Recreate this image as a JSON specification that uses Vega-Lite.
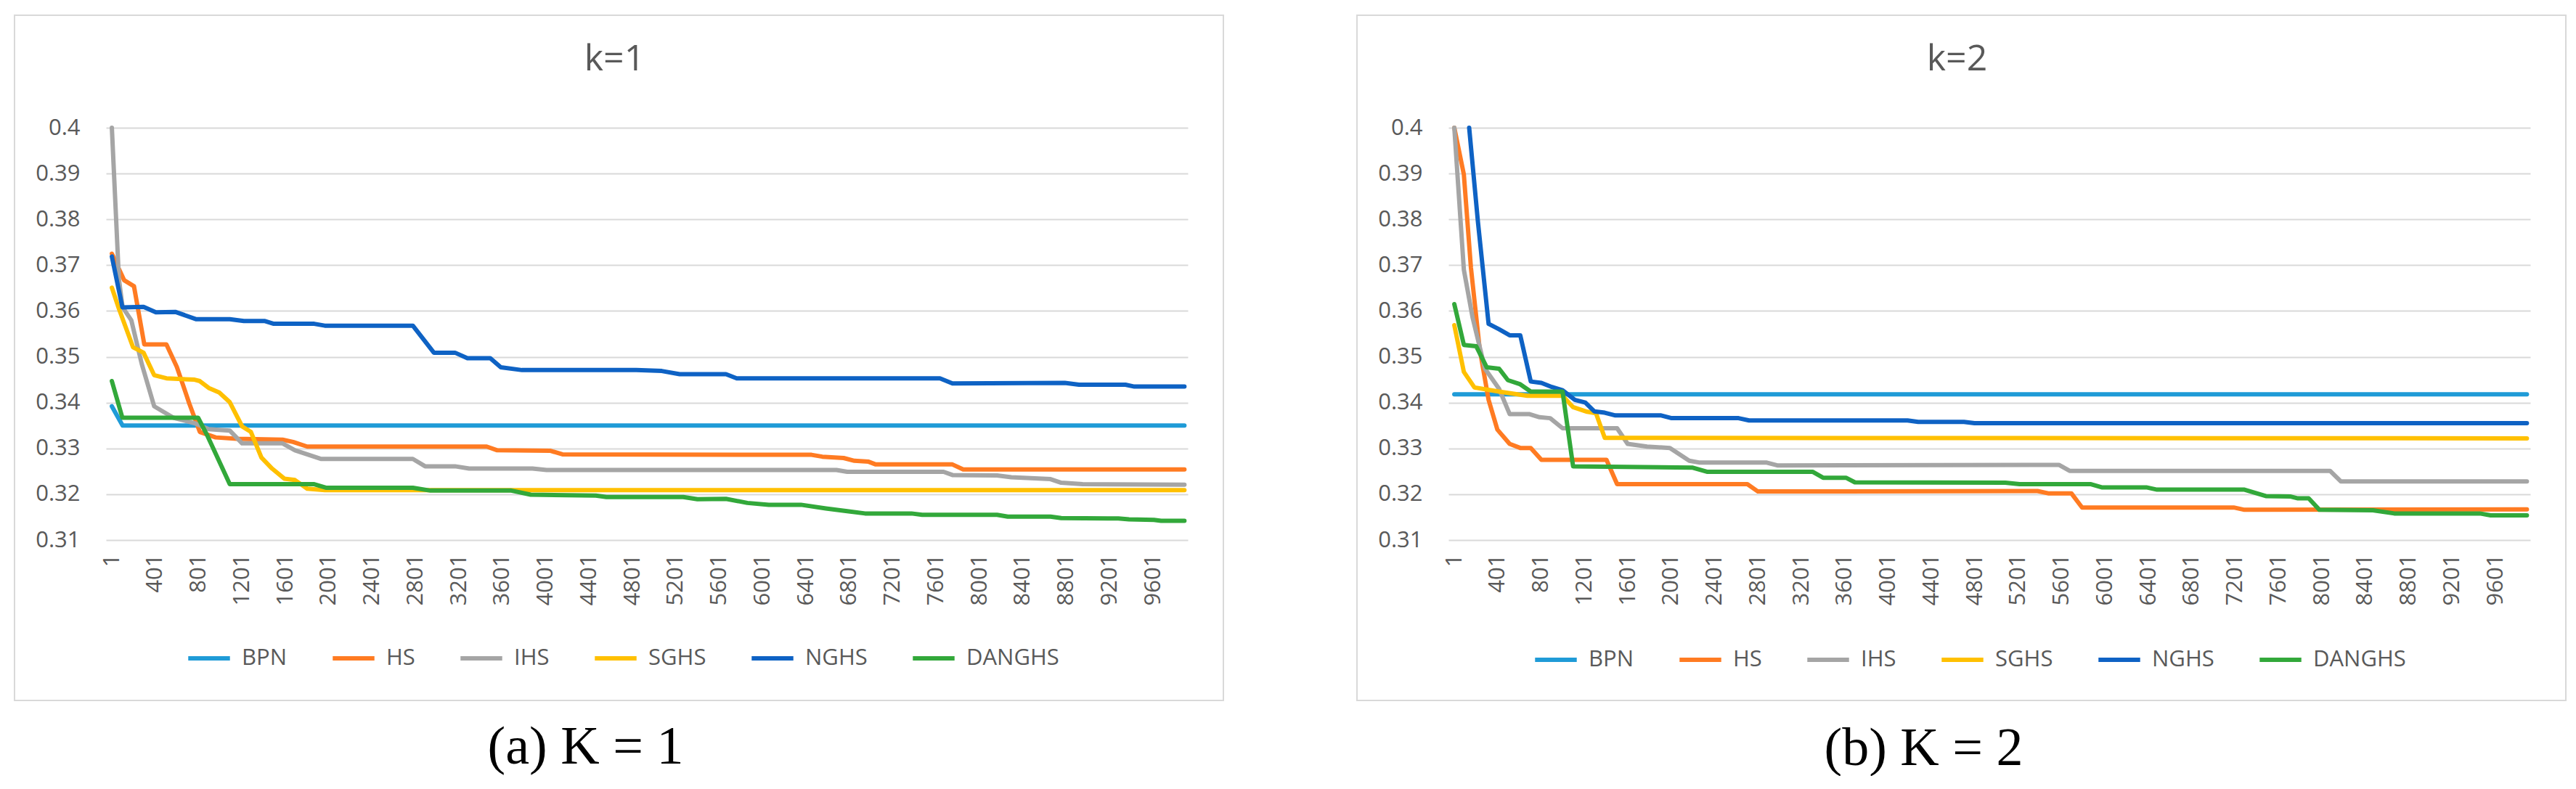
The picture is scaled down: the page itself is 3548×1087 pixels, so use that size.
{
  "$schema": "https://vega.github.io/schema/vega-lite/v6.json",
  "background": "white",
  "padding": {"left": 19, "top": 20, "right": 0, "bottom": 0},
  "autosize": {"type": "pad"},
  "spacing": 182,
  "resolve": {"scale": {"color": "independent"}, "legend": {"color": "independent"}},
  "config": {
    "view": {"stroke": "#d9d9d9", "strokeWidth": 2},
    "font": "Open Sans",
    "axis": {"labelColor": "#595959", "labelFontSize": 31, "labelFont": "Open Sans", "domain": false, "ticks": false, "tickSize": 0, "labelPadding": 0, "title": null},
    "legend": {"labelColor": "#595959", "labelFontSize": 31, "labelFont": "Open Sans"}
  },
  "datasets": {
    "k1": [
      {"s":"BPN","i":1,"v":0.3392},{"s":"BPN","i":100,"v":0.3350},{"s":"BPN","i":9890,"v":0.3350},
      {"s":"HS","i":1,"v":0.3725},{"s":"HS","i":115,"v":0.3667},{"s":"HS","i":205,"v":0.3654},{"s":"HS","i":300,"v":0.3527},{"s":"HS","i":504,"v":0.3527},{"s":"HS","i":600,"v":0.3478},{"s":"HS","i":715,"v":0.3398},{"s":"HS","i":812,"v":0.3336},{"s":"HS","i":958,"v":0.3324},{"s":"HS","i":1153,"v":0.3321},{"s":"HS","i":1575,"v":0.3319},{"s":"HS","i":1672,"v":0.3314},{"s":"HS","i":1802,"v":0.3304},{"s":"HS","i":3457,"v":0.3304},{"s":"HS","i":3554,"v":0.3296},{"s":"HS","i":4041,"v":0.3295},{"s":"HS","i":4155,"v":0.3287},{"s":"HS","i":6452,"v":0.3286},{"s":"HS","i":6551,"v":0.3282},{"s":"HS","i":6748,"v":0.3279},{"s":"HS","i":6847,"v":0.3273},{"s":"HS","i":6978,"v":0.3271},{"s":"HS","i":7044,"v":0.3265},{"s":"HS","i":7751,"v":0.3265},{"s":"HS","i":7850,"v":0.3254},{"s":"HS","i":9890,"v":0.3254},
      {"s":"IHS","i":1,"v":0.4},{"s":"IHS","i":66,"v":0.367},{"s":"IHS","i":100,"v":0.3608},{"s":"IHS","i":180,"v":0.358},{"s":"IHS","i":277,"v":0.3484},{"s":"IHS","i":391,"v":0.3392},{"s":"IHS","i":569,"v":0.3367},{"s":"IHS","i":764,"v":0.3355},{"s":"IHS","i":894,"v":0.3342},{"s":"IHS","i":1088,"v":0.3339},{"s":"IHS","i":1202,"v":0.3311},{"s":"IHS","i":1575,"v":0.3311},{"s":"IHS","i":1689,"v":0.3296},{"s":"IHS","i":1932,"v":0.3277},{"s":"IHS","i":2776,"v":0.3277},{"s":"IHS","i":2889,"v":0.3261},{"s":"IHS","i":3165,"v":0.3261},{"s":"IHS","i":3295,"v":0.3256},{"s":"IHS","i":3879,"v":0.3256},{"s":"IHS","i":4009,"v":0.3253},{"s":"IHS","i":6682,"v":0.3253},{"s":"IHS","i":6781,"v":0.3249},{"s":"IHS","i":7669,"v":0.3249},{"s":"IHS","i":7751,"v":0.3242},{"s":"IHS","i":8162,"v":0.3241},{"s":"IHS","i":8294,"v":0.3237},{"s":"IHS","i":8655,"v":0.3233},{"s":"IHS","i":8754,"v":0.3225},{"s":"IHS","i":8951,"v":0.3222},{"s":"IHS","i":9890,"v":0.3221},
      {"s":"SGHS","i":1,"v":0.3651},{"s":"SGHS","i":66,"v":0.3605},{"s":"SGHS","i":196,"v":0.3521},{"s":"SGHS","i":293,"v":0.3509},{"s":"SGHS","i":391,"v":0.346},{"s":"SGHS","i":504,"v":0.3453},{"s":"SGHS","i":764,"v":0.345},{"s":"SGHS","i":812,"v":0.3447},{"s":"SGHS","i":894,"v":0.3432},{"s":"SGHS","i":991,"v":0.3422},{"s":"SGHS","i":1088,"v":0.3401},{"s":"SGHS","i":1202,"v":0.3348},{"s":"SGHS","i":1283,"v":0.3336},{"s":"SGHS","i":1380,"v":0.328},{"s":"SGHS","i":1478,"v":0.3256},{"s":"SGHS","i":1591,"v":0.3234},{"s":"SGHS","i":1689,"v":0.3231},{"s":"SGHS","i":1802,"v":0.3212},{"s":"SGHS","i":1964,"v":0.3209},{"s":"SGHS","i":9890,"v":0.3209},
      {"s":"NGHS","i":1,"v":0.3719},{"s":"NGHS","i":98,"v":0.3608},{"s":"NGHS","i":293,"v":0.3609},{"s":"NGHS","i":407,"v":0.3597},{"s":"NGHS","i":585,"v":0.3598},{"s":"NGHS","i":780,"v":0.3582},{"s":"NGHS","i":1088,"v":0.3582},{"s":"NGHS","i":1218,"v":0.3578},{"s":"NGHS","i":1413,"v":0.3578},{"s":"NGHS","i":1494,"v":0.3572},{"s":"NGHS","i":1867,"v":0.3572},{"s":"NGHS","i":1964,"v":0.3568},{"s":"NGHS","i":2776,"v":0.3568},{"s":"NGHS","i":2970,"v":0.3509},{"s":"NGHS","i":3165,"v":0.3509},{"s":"NGHS","i":3279,"v":0.3497},{"s":"NGHS","i":3490,"v":0.3497},{"s":"NGHS","i":3587,"v":0.3477},{"s":"NGHS","i":3782,"v":0.3471},{"s":"NGHS","i":4836,"v":0.3471},{"s":"NGHS","i":5071,"v":0.3469},{"s":"NGHS","i":5236,"v":0.3462},{"s":"NGHS","i":5663,"v":0.3462},{"s":"NGHS","i":5762,"v":0.3453},{"s":"NGHS","i":7636,"v":0.3453},{"s":"NGHS","i":7751,"v":0.3442},{"s":"NGHS","i":8787,"v":0.3443},{"s":"NGHS","i":8918,"v":0.3439},{"s":"NGHS","i":9346,"v":0.3439},{"s":"NGHS","i":9428,"v":0.3435},{"s":"NGHS","i":9890,"v":0.3435},
      {"s":"DANGHS","i":1,"v":0.3447},{"s":"DANGHS","i":98,"v":0.3367},{"s":"DANGHS","i":796,"v":0.3367},{"s":"DANGHS","i":877,"v":0.333},{"s":"DANGHS","i":1088,"v":0.3222},{"s":"DANGHS","i":1867,"v":0.3222},{"s":"DANGHS","i":1980,"v":0.3214},{"s":"DANGHS","i":2776,"v":0.3214},{"s":"DANGHS","i":2938,"v":0.3208},{"s":"DANGHS","i":3684,"v":0.3208},{"s":"DANGHS","i":3863,"v":0.3199},{"s":"DANGHS","i":4463,"v":0.3197},{"s":"DANGHS","i":4561,"v":0.3194},{"s":"DANGHS","i":5269,"v":0.3194},{"s":"DANGHS","i":5400,"v":0.3189},{"s":"DANGHS","i":5663,"v":0.319},{"s":"DANGHS","i":5860,"v":0.3181},{"s":"DANGHS","i":6058,"v":0.3177},{"s":"DANGHS","i":6354,"v":0.3177},{"s":"DANGHS","i":6584,"v":0.3169},{"s":"DANGHS","i":6781,"v":0.3163},{"s":"DANGHS","i":6945,"v":0.3158},{"s":"DANGHS","i":7373,"v":0.3158},{"s":"DANGHS","i":7472,"v":0.3155},{"s":"DANGHS","i":8162,"v":0.3155},{"s":"DANGHS","i":8261,"v":0.3151},{"s":"DANGHS","i":8655,"v":0.3151},{"s":"DANGHS","i":8754,"v":0.3148},{"s":"DANGHS","i":9280,"v":0.3147},{"s":"DANGHS","i":9379,"v":0.3145},{"s":"DANGHS","i":9609,"v":0.3144},{"s":"DANGHS","i":9675,"v":0.3142},{"s":"DANGHS","i":9890,"v":0.3142}
    ],
    "k2": [
      {"s":"BPN","i":1,"v":0.3418},{"s":"BPN","i":9890,"v":0.3418},
      {"s":"HS","i":1,"v":0.4},{"s":"HS","i":89,"v":0.3898},{"s":"HS","i":154,"v":0.3695},{"s":"HS","i":235,"v":0.3517},{"s":"HS","i":317,"v":0.3406},{"s":"HS","i":398,"v":0.3341},{"s":"HS","i":511,"v":0.331},{"s":"HS","i":609,"v":0.3301},{"s":"HS","i":706,"v":0.3301},{"s":"HS","i":804,"v":0.3275},{"s":"HS","i":1404,"v":0.3275},{"s":"HS","i":1502,"v":0.3222},{"s":"HS","i":2703,"v":0.3222},{"s":"HS","i":2800,"v":0.3206},{"s":"HS","i":5378,"v":0.3207},{"s":"HS","i":5476,"v":0.3202},{"s":"HS","i":5690,"v":0.3202},{"s":"HS","i":5789,"v":0.3171},{"s":"HS","i":7187,"v":0.3171},{"s":"HS","i":7286,"v":0.3166},{"s":"HS","i":9890,"v":0.3167},
      {"s":"IHS","i":1,"v":0.4},{"s":"IHS","i":89,"v":0.369},{"s":"IHS","i":170,"v":0.3585},{"s":"IHS","i":284,"v":0.3474},{"s":"IHS","i":414,"v":0.343},{"s":"IHS","i":511,"v":0.3375},{"s":"IHS","i":690,"v":0.3375},{"s":"IHS","i":787,"v":0.3368},{"s":"IHS","i":885,"v":0.3366},{"s":"IHS","i":999,"v":0.3344},{"s":"IHS","i":1502,"v":0.3344},{"s":"IHS","i":1599,"v":0.331},{"s":"IHS","i":1778,"v":0.3304},{"s":"IHS","i":1989,"v":0.3301},{"s":"IHS","i":2167,"v":0.3273},{"s":"IHS","i":2265,"v":0.3269},{"s":"IHS","i":2882,"v":0.3269},{"s":"IHS","i":2979,"v":0.3263},{"s":"IHS","i":5575,"v":0.3264},{"s":"IHS","i":5674,"v":0.3251},{"s":"IHS","i":8075,"v":0.3251},{"s":"IHS","i":8174,"v":0.3228},{"s":"IHS","i":9890,"v":0.3228},
      {"s":"SGHS","i":1,"v":0.3569},{"s":"SGHS","i":89,"v":0.3467},{"s":"SGHS","i":187,"v":0.3433},{"s":"SGHS","i":414,"v":0.3424},{"s":"SGHS","i":674,"v":0.3415},{"s":"SGHS","i":999,"v":0.3415},{"s":"SGHS","i":1096,"v":0.339},{"s":"SGHS","i":1226,"v":0.338},{"s":"SGHS","i":1307,"v":0.3377},{"s":"SGHS","i":1388,"v":0.3323},{"s":"SGHS","i":9890,"v":0.3322},
      {"s":"NGHS","i":138,"v":0.4},{"s":"NGHS","i":219,"v":0.3794},{"s":"NGHS","i":317,"v":0.3572},{"s":"NGHS","i":414,"v":0.356},{"s":"NGHS","i":511,"v":0.3547},{"s":"NGHS","i":609,"v":0.3547},{"s":"NGHS","i":706,"v":0.3446},{"s":"NGHS","i":804,"v":0.3443},{"s":"NGHS","i":901,"v":0.3434},{"s":"NGHS","i":999,"v":0.3427},{"s":"NGHS","i":1112,"v":0.3406},{"s":"NGHS","i":1209,"v":0.34},{"s":"NGHS","i":1291,"v":0.3381},{"s":"NGHS","i":1388,"v":0.3378},{"s":"NGHS","i":1486,"v":0.3372},{"s":"NGHS","i":1908,"v":0.3372},{"s":"NGHS","i":2005,"v":0.3366},{"s":"NGHS","i":2622,"v":0.3366},{"s":"NGHS","i":2719,"v":0.3361},{"s":"NGHS","i":4180,"v":0.3361},{"s":"NGHS","i":4278,"v":0.3358},{"s":"NGHS","i":4700,"v":0.3358},{"s":"NGHS","i":4797,"v":0.3355},{"s":"NGHS","i":9890,"v":0.3355},
      {"s":"DANGHS","i":1,"v":0.3615},{"s":"DANGHS","i":89,"v":0.3526},{"s":"DANGHS","i":203,"v":0.3523},{"s":"DANGHS","i":300,"v":0.3477},{"s":"DANGHS","i":414,"v":0.3474},{"s":"DANGHS","i":495,"v":0.3449},{"s":"DANGHS","i":609,"v":0.344},{"s":"DANGHS","i":706,"v":0.3424},{"s":"DANGHS","i":999,"v":0.3424},{"s":"DANGHS","i":1096,"v":0.3261},{"s":"DANGHS","i":2200,"v":0.3258},{"s":"DANGHS","i":2330,"v":0.3249},{"s":"DANGHS","i":3304,"v":0.3249},{"s":"DANGHS","i":3401,"v":0.3236},{"s":"DANGHS","i":3612,"v":0.3236},{"s":"DANGHS","i":3694,"v":0.3226},{"s":"DANGHS","i":5081,"v":0.3225},{"s":"DANGHS","i":5213,"v":0.3222},{"s":"DANGHS","i":5871,"v":0.3222},{"s":"DANGHS","i":5970,"v":0.3215},{"s":"DANGHS","i":6381,"v":0.3215},{"s":"DANGHS","i":6480,"v":0.321},{"s":"DANGHS","i":7286,"v":0.321},{"s":"DANGHS","i":7483,"v":0.3196},{"s":"DANGHS","i":7713,"v":0.3195},{"s":"DANGHS","i":7779,"v":0.3191},{"s":"DANGHS","i":7878,"v":0.3191},{"s":"DANGHS","i":7977,"v":0.3166},{"s":"DANGHS","i":8470,"v":0.3165},{"s":"DANGHS","i":8667,"v":0.3158},{"s":"DANGHS","i":9457,"v":0.3158},{"s":"DANGHS","i":9556,"v":0.3154},{"s":"DANGHS","i":9890,"v":0.3154}
    ]
  },
  "hconcat": [
    {
      "title": {"text": "(a) K = 1", "orient": "bottom", "anchor": "middle", "font": "Liberation Serif", "fontSize": 74, "fontWeight": "normal", "color": "#000000", "baseline": "alphabetic", "offset": 86, "dx": -46},
      "vconcat": [
        {
          "width": 1665,
          "height": 944,
          "title": {"text": "k=1", "fontSize": 50, "fontWeight": "normal", "color": "#595959", "font": "Open Sans", "anchor": "middle", "frame": "group", "baseline": "middle", "offset": -111, "dx": -6},
          "data": {"name": "k1"},
          "mark": {"type": "line", "strokeWidth": 6, "strokeJoin": "round", "strokeCap": "round"},
          "encoding": {
            "x": {"field": "i", "type": "quantitative",
              "scale": {"domain": [-53, 9921], "range": [126, 1616], "nice": false, "zero": false},
              "axis": {"values": [1,401,801,1201,1601,2001,2401,2801,3201,3601,4001,4401,4801,5201,5601,6001,6401,6801,7201,7601,8001,8401,8801,9201,9601], "labelAngle": -90, "labelAlign": "right", "labelBaseline": "middle", "grid": false, "offset": -202, "labelOverlap": false, "labelFlush": false, "format": "d"}},
            "y": {"field": "v", "type": "quantitative",
              "scale": {"domain": [0.31, 0.4], "range": [723, 155], "nice": false, "zero": false},
              "axis": {"values": [0.31,0.32,0.33,0.34,0.35,0.36,0.37,0.38,0.39,0.4], "grid": true, "gridColor": "#d9d9d9", "gridWidth": 2, "offset": -90, "labelPadding": 0, "format": ".2~f", "labelOverlap": false, "labelFlush": false}},
            "color": {"field": "s", "type": "nominal",
              "scale": {"domain": ["BPN","HS","IHS","SGHS","NGHS","DANGHS"], "range": ["#1F9BD7","#FF7B22","#A5A5A5","#FFC000","#0E62C4","#32A83A"]},
              "legend": {"orient": "none", "legendX": 236, "legendY": 854, "direction": "horizontal", "title": null, "symbolType": "stroke", "symbolSize": 3300, "symbolStrokeWidth": 6, "columnPadding": 50, "labelOffset": 13}}
          }
        }
      ]
    },
    {
      "title": {"text": "(b) K = 2", "orient": "bottom", "anchor": "middle", "font": "Liberation Serif", "fontSize": 74, "fontWeight": "normal", "color": "#000000", "baseline": "alphabetic", "offset": 88, "dx": -52},
      "vconcat": [
        {
          "width": 1665,
          "height": 944,
          "title": {"text": "k=2", "fontSize": 50, "fontWeight": "normal", "color": "#595959", "font": "Open Sans", "anchor": "middle", "frame": "group", "baseline": "middle", "offset": -111, "dx": -6},
          "data": {"name": "k2"},
          "mark": {"type": "line", "strokeWidth": 6, "strokeJoin": "round", "strokeCap": "round"},
          "encoding": {
            "x": {"field": "i", "type": "quantitative",
              "scale": {"domain": [-53, 9921], "range": [126, 1616], "nice": false, "zero": false},
              "axis": {"values": [1,401,801,1201,1601,2001,2401,2801,3201,3601,4001,4401,4801,5201,5601,6001,6401,6801,7201,7601,8001,8401,8801,9201,9601], "labelAngle": -90, "labelAlign": "right", "labelBaseline": "middle", "grid": false, "offset": -202, "labelOverlap": false, "labelFlush": false, "format": "d"}},
            "y": {"field": "v", "type": "quantitative",
              "scale": {"domain": [0.31, 0.4], "range": [723, 155], "nice": false, "zero": false},
              "axis": {"values": [0.31,0.32,0.33,0.34,0.35,0.36,0.37,0.38,0.39,0.4], "grid": true, "gridColor": "#d9d9d9", "gridWidth": 2, "offset": -90, "labelPadding": 0, "format": ".2~f", "labelOverlap": false, "labelFlush": false}},
            "color": {"field": "s", "type": "nominal",
              "scale": {"domain": ["BPN","HS","IHS","SGHS","NGHS","DANGHS"], "range": ["#1F9BD7","#FF7B22","#A5A5A5","#FFC000","#0E62C4","#32A83A"]},
              "legend": {"orient": "none", "legendX": 242, "legendY": 856, "direction": "horizontal", "title": null, "symbolType": "stroke", "symbolSize": 3300, "symbolStrokeWidth": 6, "columnPadding": 50, "labelOffset": 13}}
          }
        }
      ]
    }
  ]
}
